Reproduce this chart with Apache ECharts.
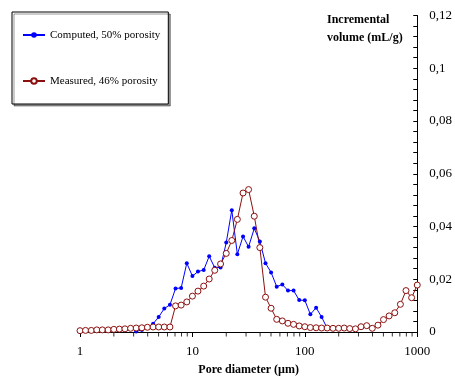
<!DOCTYPE html>
<html>
<head>
<meta charset="utf-8">
<script src="https://cdn.jsdelivr.net/npm/echarts@6/dist/echarts.min.js"></script>
<style>
  html, body { margin: 0; padding: 0; background: #fff; }
  #chart { width: 455px; height: 381px; }
</style>
</head>
<body>
<div id="chart"></div>
<script>
// pore diameters (µm), log spaced
const diameters = [1, 1.12, 1.26, 1.41, 1.58, 1.78, 2.00, 2.24, 2.51, 2.82,
  3.16, 3.55, 3.98, 4.47, 5.01, 5.62, 6.31, 7.08, 7.94, 8.91,
  10, 11.2, 12.6, 14.1, 15.8, 17.8, 20.0, 22.4, 25.1, 28.2,
  31.6, 35.5, 39.8, 44.7, 50.1, 56.2, 63.1, 70.8, 79.4, 89.1,
  100, 112, 126, 141, 158, 178, 200, 224, 251, 282,
  316, 355, 398, 447, 501, 562, 631, 708, 794, 891, 1000];

// Computed, 50% porosity (mL/g)
const computed = [null, null, null, null, null, null, null, null, null, null,
  0.0002, 0.0008, 0.0017, 0.0031, 0.0057, 0.0089, 0.0103, 0.0165, 0.0167, 0.0261,
  0.0212, 0.0229, 0.0235, 0.0287, 0.0244, 0.0245, 0.0339, 0.0462, 0.0295, 0.0362,
  0.0323, 0.0393, 0.0343, 0.0261, 0.0226, 0.0172, 0.0180, 0.0157, 0.0157, 0.0121,
  0.0120, 0.0067, 0.0092, 0.0057, 0.0014, 0.0011, 0.0012, null, null, null,
  null, null, null, null, null, null, null, null, null, null, null];

// Measured, 46% porosity (mL/g)
const measured = [0.0005, 0.0006, 0.0006, 0.0008, 0.0008, 0.0008, 0.0010, 0.0011, 0.0012, 0.0014,
  0.0015, 0.0016, 0.0018, 0.0019, 0.0019, 0.0019, 0.0019, 0.0099, 0.0102, 0.0114,
  0.0136, 0.0155, 0.0174, 0.0201, 0.0234, 0.0258, 0.0298, 0.0347, 0.0427, 0.0527,
  0.0540, 0.0439, 0.0320, 0.0132, 0.0090, 0.0048, 0.0042, 0.0033, 0.0029, 0.0023,
  0.0020, 0.0017, 0.0016, 0.0015, 0.0015, 0.0014, 0.0014, 0.0015, 0.0013, 0.0012,
  0.0020, 0.0024, 0.0014, 0.0026, 0.0047, 0.0061, 0.0073, 0.0105, 0.0157, 0.0130, 0.0178];

// minor log ticks on the x axis
const minorTicks = [2, 3, 4, 5, 6, 7, 8, 9, 20, 30, 40, 50, 60, 70, 80, 90,
  200, 300, 400, 500, 600, 700, 800, 900];

const serif = '"Liberation Serif", "DejaVu Serif", serif';

function pairs(xs, ys) {
  return xs.map((x, i) => [x, ys[i]]);
}

const chart = echarts.init(document.getElementById('chart'));
chart.setOption({
  animation: false,
  backgroundColor: '#fff',
  title: {
    text: 'Incremental\nvolume (mL/g)',
    left: 322,
    top: 6,
    textStyle: { fontFamily: serif, fontSize: 12, fontWeight: 'bold', lineHeight: 18, color: '#000' }
  },
  legend: {
    data: ['Computed, 50% porosity', 'Measured, 46% porosity'],
    orient: 'vertical',
    left: 12,
    top: 12,
    padding: [16, 8, 16, 10],
    itemGap: 32,
    itemWidth: 22,
    itemHeight: 7,
    borderColor: '#000',
    borderWidth: 1,
    backgroundColor: '#fff',
    shadowColor: 'rgba(0,0,0,0.4)',
    shadowOffsetX: 2,
    shadowOffsetY: 2,
    borderRadius: 0,
    textStyle: { fontFamily: serif, fontSize: 11, color: '#000', lineHeight: 14 }
  },
  grid: { left: 80, right: 36, top: 15.5, bottom: 46.5 },
  xAxis: {
    type: 'log',
    logBase: 10,
    min: 1,
    max: 1000,
    name: 'Pore diameter (µm)',
    nameLocation: 'middle',
    nameGap: 32,
    nameTextStyle: { fontFamily: serif, fontSize: 12, fontWeight: 'bold', color: '#000' },
    axisLine: { lineStyle: { color: '#000', width: 1 } },
    axisTick: { length: 5, lineStyle: { color: '#000' } },
    axisLabel: {
      fontFamily: serif, fontSize: 13, color: '#000', margin: 13,
      formatter: v => String(Math.round(v))
    },
    splitLine: { show: false }
  },
  yAxis: {
    type: 'value',
    position: 'right',
    min: 0,
    max: 0.12,
    interval: 0.02,
    axisLine: { show: true, lineStyle: { color: '#000', width: 1 } },
    axisTick: { show: true, inside: true, length: 4, lineStyle: { color: '#000' } },
    minorTick: { show: true, splitNumber: 5, length: 4, lineStyle: { color: '#000' } },
    axisLabel: {
      fontFamily: serif, fontSize: 13, color: '#000', margin: 12,
      formatter: v => String(Math.round(v * 1000) / 1000).replace('.', ',')
    },
    splitLine: { show: false }
  },
  series: [
    {
      name: 'Computed, 50% porosity',
      type: 'line',
      data: pairs(diameters, computed),
      symbol: 'circle',
      symbolSize: 4,
      showAllSymbol: true,
      lineStyle: { color: '#0000ff', width: 1 },
      itemStyle: { color: '#0000ff' }
    },
    {
      name: 'Measured, 46% porosity',
      type: 'line',
      data: pairs(diameters, measured),
      symbol: 'circle',
      symbolSize: 6,
      showAllSymbol: true,
      lineStyle: { color: '#8b1010', width: 1 },
      itemStyle: { color: '#fff', borderColor: '#8b1010', borderWidth: 1 }
    },
    {
      name: 'minor',
      type: 'scatter',
      data: minorTicks.map(v => [v, 0]),
      symbol: 'rect',
      symbolSize: [1, 4],
      symbolOffset: [0, 2.5],
      clip: false,
      silent: true,
      z: 5,
      itemStyle: { color: '#000' }
    }
  ]
});
</script>
</body>
</html>
